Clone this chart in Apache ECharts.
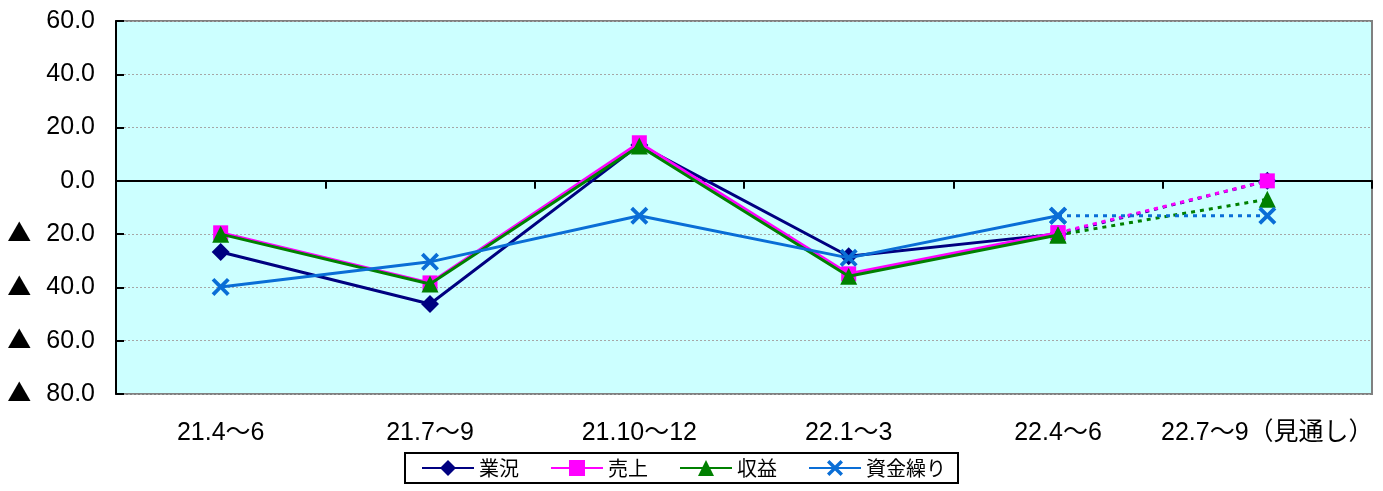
<!DOCTYPE html>
<html>
<head>
<meta charset="utf-8">
<style>
  html, body { margin: 0; padding: 0; background: #ffffff; }
  #chart { width: 1383px; height: 491px; }
</style>
<script src="https://cdn.jsdelivr.net/npm/echarts@6/dist/echarts.min.js"></script>
</head>
<body>
<div id="chart"></div>
<script>
// 期間（最後の期は見通し）
const categories = ['21.4～6', '21.7～9', '21.10～12', '22.1～3', '22.4～6', '22.7～9（見通し）'];

// DI値（マイナスは▲表記）
const gyokyo   = [-26.7, -46.2, 13.5, -28.3, -19.9, 0.0];   // 業況
const uriage   = [-19.5, -38.3, 14.3, -34.9, -19.5, 0.0];   // 売上
const shueki   = [-20.0, -38.7, 13.1, -35.8, -20.3, -6.9];  // 収益
const shikin   = [-39.8, -30.4, -13.1, -28.9, -13.1, -13.1]; // 資金繰り

const yTicks = { min: -80, max: 60, step: 20 };

const FONT = "'Liberation Sans', 'Noto Sans CJK JP', sans-serif";
const CJK = "'Noto Sans CJK JP', 'Liberation Sans', sans-serif";

// ×印（塗りつぶしの多角形）
const crossPath = 'path://M0,1.5L1.5,0L5,3.5L8.5,0L10,1.5L6.5,5L10,8.5L8.5,10L5,6.5L1.5,10L0,8.5L3.5,5Z';

const defs = [
  { name: '業況',   data: gyokyo, color: '#000080', symbol: 'diamond',  size: 18 },
  { name: '売上',   data: uriage, color: '#FF00FF', symbol: 'rect',     size: 15 },
  { name: '収益',   data: shueki, color: '#008000', symbol: 'triangle', size: 17 },
  { name: '資金繰り', data: shikin, color: '#0A6ED6', symbol: crossPath, size: 18 }
];

const last = categories.length - 1;
const series = [];
defs.forEach(function (d, i) {
  // 実績（実線）
  series.push({
    name: d.name,
    type: 'line',
    xAxisIndex: 0,
    data: d.data.map(function (v, k) { return k < last ? v : '-'; }),
    symbol: d.symbol,
    symbolSize: d.size,
    showAllSymbol: true,
    color: d.color,
    lineStyle: { color: d.color, width: 3, type: 'solid' },
    itemStyle: { color: d.color },
    z: 2 + i,
    animation: false
  });
  // 見通し（点線）
  series.push({
    name: d.name,
    type: 'line',
    xAxisIndex: 0,
    data: d.data.map(function (v, k) { return k >= last - 1 ? v : '-'; }),
    symbol: d.symbol,
    symbolSize: d.size,
    showAllSymbol: true,
    color: d.color,
    lineStyle: { color: d.color, width: 3, type: [4, 5] },
    itemStyle: { color: d.color },
    z: 2 + i,
    animation: false
  });
});

const chart = echarts.init(document.getElementById('chart'), null, { renderer: 'canvas' });

chart.setOption({
  backgroundColor: '#ffffff',
  animation: false,
  grid: {
    left: 116, right: 11, top: 21, bottom: 97,
    show: true,
    backgroundColor: '#CCFFFF',
    borderColor: '#808080',
    borderWidth: 2
  },
  legend: {
    data: defs.map(function (d) { return d.name; }),
    left: 405,
    top: 453,
    width: 600,
    orient: 'horizontal',
    itemWidth: 52,
    itemHeight: 20,
    itemGap: 31,
    padding: [5, 12, 5, 16],
    borderColor: '#000000',
    borderWidth: 2,
    backgroundColor: '#ffffff',
    textStyle: { fontFamily: CJK, fontSize: 20, color: '#000000' }
  },
  xAxis: [
    {
      // ゼロ線上の軸（目盛のみ）
      type: 'category',
      data: categories,
      boundaryGap: true,
      axisLine: { onZero: true, lineStyle: { color: '#000000', width: 2 } },
      axisTick: { show: true, inside: false, length: 8, lineStyle: { color: '#000000', width: 2 } },
      axisLabel: { show: false },
      splitLine: { show: false }
    },
    {
      // 下端の項目ラベル
      type: 'category',
      data: categories,
      position: 'bottom',
      boundaryGap: true,
      axisLine: { show: false },
      axisTick: { show: false },
      axisLabel: { show: true, interval: 0, margin: 27, color: '#000000', fontFamily: FONT, fontSize: 25 },
      splitLine: { show: false }
    }
  ],
  yAxis: {
    type: 'value',
    min: yTicks.min,
    max: yTicks.max,
    interval: yTicks.step,
    axisLine: { show: true, onZero: false, lineStyle: { color: '#000000', width: 2 } },
    axisTick: { show: true, inside: true, length: 8, lineStyle: { color: '#000000', width: 2 } },
    axisLabel: {
      margin: 21,
      color: '#000000',
      fontFamily: FONT,
      fontSize: 25,
      formatter: function (v) {
        return v < 0 ? '{tri|▲}{num|' + Math.abs(v).toFixed(1) + '}' : v.toFixed(1);
      },
      rich: {
        tri: { fontFamily: CJK, fontSize: 24, color: '#000000', padding: [0, 15, 4, 0], verticalAlign: 'middle' },
        num: { fontFamily: FONT, fontSize: 25, color: '#000000', verticalAlign: 'middle' }
      }
    },
    splitLine: { show: true, lineStyle: { color: '#A6A6A6', width: 1, type: [2, 2] } }
  },
  series: series
});
</script>
</body>
</html>
